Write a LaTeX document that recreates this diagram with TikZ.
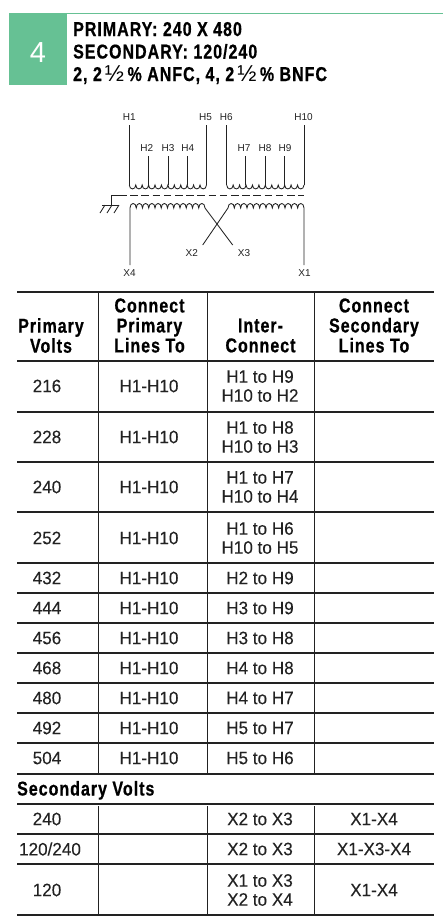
\documentclass[tikz,border=0pt]{standalone}
\usepackage{fontspec}
\setmainfont{Liberation Sans}
\newfontfamily\hdrfont[FakeStretch=0.8,LetterSpace=5,BoldFeatures={FakeBold=0.7}]{Liberation Sans}
\newfontfamily\bodyfont[FakeStretch=0.95,FakeBold=0.12]{Liberation Sans}
\newfontfamily\halffont{Liberation Sans}
\definecolor{tabgreen}{HTML}{66C194}
\definecolor{ink}{HTML}{222222}
\tikzset{
  wire/.style={draw=ink,line width=0.85pt},
  rule/.style={draw=ink,line width=1.1pt},
  vrule/.style={draw=ink,line width=1pt},
  termlabel/.style={font=\fontsize{10}{11}\selectfont,text=ink,inner xsep=0pt,inner ysep=4pt},
  cell/.style={font=\bodyfont\fontsize{18}{19}\selectfont,text=ink,align=center,inner sep=0pt},
  headcell/.style={font=\hdrfont\bfseries\fontsize{20}{20}\selectfont,text=black,align=center,inner sep=0pt},
  titleline/.style={font=\hdrfont\bfseries\fontsize{20}{20}\selectfont,text=black,anchor=base west,inner sep=0pt},
}
\newcommand{\halfmark}{\kern3pt{\halffont\mdseries\fontsize{23}{23}\selectfont ½}\kern3.5pt}
\begin{document}
\begin{tikzpicture}[x=1pt,y=-1pt]
\useasboundingbox (0,0) rectangle (443,919);
% title tab
\fill[tabgreen] (9,13) rectangle (67,85);
\draw[tabgreen,line width=1pt] (9,13.5) -- (443,13.5);
\node[font=\fontsize{29}{30}\selectfont,text=white,inner sep=0pt] (tabnum) at (38,53) {4};
\node[titleline] (t1) at (73,36) {PRIMARY: 240 X 480};
\node[titleline] (t2) at (73,58.5) {SECONDARY: 120/240};
\node[titleline] (t3) at (73,81) {2, 2\halfmark\% ANFC, 4, 2\halfmark\% BNFC};
% primary terminals
\foreach \n/\lx/\wx/\wy in {H1/129.3/129.3/125,H5/205.5/206.5/125,H6/226.3/226.7/125,H10/303.5/304/125,
  H2/146.7/148.7/156,H3/168/168/156,H4/187.7/187.6/156,H7/244/245.7/156,H8/265/265/156,H9/285/284.5/156}{
  \node[termlabel,anchor=south] (\n) at (\lx,\wy) {\n};
  \coordinate (\n w) at (\wx,\wy);
  \coordinate (\n t) at (\wx,185);
  \draw[wire] (\n w) -- (\n t);
}
% primary coils
\draw[wire] (H1t) foreach \i in {1,...,12}{ .. controls +(0,5.2) and +(0,5.2) .. ++(6.43,0)};
\draw[wire] (H6t) foreach \i in {1,...,12}{ .. controls +(0,5.2) and +(0,5.2) .. ++(6.44,0)};
% core and ground
\coordinate (gtop) at (111,195);
\coordinate (gfoot) at (111,205);
\coordinate (coreend) at (304,195);
\draw[wire] (gfoot) -- (gtop) -- (119,195);
\draw[wire,dash pattern=on 7.5pt off 3.7pt] (119,195) -- (coreend);
\draw[wire] (102,205) -- (119,205);
\draw[wire] (105,205) -- (100,213) (112,205) -- (107,213) (119,205) -- (114,213);
% secondary terminals
\node[termlabel,anchor=north] (X4) at (129.5,265) {X4};
\node[termlabel,anchor=north] (X1) at (304.5,265) {X1};
\node[termlabel] (X2) at (191.7,253) {X2};
\node[termlabel] (X3) at (244,253) {X3};
\coordinate (x4w) at (130,265);
\coordinate (x1w) at (304,265);
\coordinate (x2w) at (202.7,245);
\coordinate (x3w) at (232.7,245);
\coordinate (sl) at (130,208);
\coordinate (sr) at (228,208);
\draw[wire] (x4w) -- (sl) foreach \i in {1,...,12}{ .. controls +(0,-6) and +(0,-6) .. ++(6.25,0)} -- (x3w);
\draw[wire] (x2w) -- (sr) foreach \i in {1,...,12}{ .. controls +(0,-6) and +(0,-6) .. ++(6.333,0)} -- (x1w);
% table rules
\foreach \y in {292,361,412,462,512,563,593,623,653,683,713,743,774,804,834,864}
  \draw[rule] (17,\y) -- (434,\y);
\draw[rule,line width=1.6pt] (17,915) -- (434,915);
\foreach \x in {98.5,207,314.5}{
  \draw[vrule] (\x,292) -- (\x,775);
  \draw[vrule] (\x,806) -- (\x,915);
}
% header
\node[headcell] (hA) at (51,335.5) {Primary\\Volts};
\node[headcell] (hB) at (149.5,325.5) {Connect\\Primary\\Lines To};
\node[headcell] (hC) at (260.5,335.5) {Inter-\\Connect};
\node[headcell] (hD) at (374,325.5) {Connect\\Secondary\\Lines To};
% primary rows
\foreach \i/\v/\yy/\ic in {
  a/216/386/{H1 to H9\\H10 to H2},
  b/228/437/{H1 to H8\\H10 to H3},
  c/240/487/{H1 to H7\\H10 to H4},
  d/252/538/{H1 to H6\\H10 to H5},
  e/432/578/{H2 to H9},
  f/444/608/{H3 to H9},
  g/456/638/{H3 to H8},
  h/468/668/{H4 to H8},
  i/480/698/{H4 to H7},
  j/492/728/{H5 to H7},
  k/504/758/{H5 to H6}}{
  \node[cell] (v\i) at (47,\yy) {\v};
  \node[cell] (l\i) at (149,\yy) {H1-H10};
  \node[cell] (c\i) at (260,\yy) {\ic};
}
% secondary block
\node[headcell,anchor=base west] (secv) at (17,795.5) {Secondary Volts};
\node[cell] (s1) at (47,819) {240};
\node[cell] (s1c) at (260,819) {X2 to X3};
\node[cell] (s1l) at (374,819) {X1-X4};
\node[cell] (s2) at (50,849) {120/240};
\node[cell] (s2c) at (260,849) {X2 to X3};
\node[cell] (s2l) at (374,849) {X1-X3-X4};
\node[cell] (s3) at (47,890) {120};
\node[cell] (s3c) at (260,890) {X1 to X3\\X2 to X4};
\node[cell] (s3l) at (374,890) {X1-X4};
\end{tikzpicture}
\end{document}
